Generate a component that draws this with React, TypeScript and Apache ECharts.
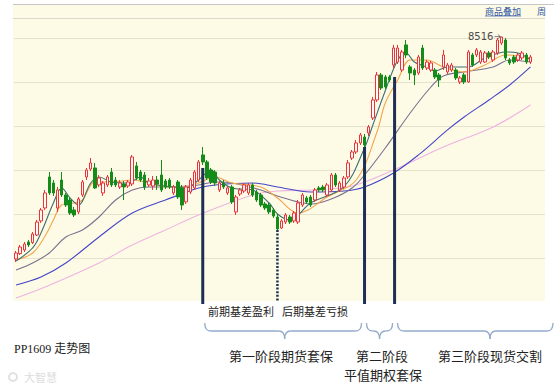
import React, { useEffect, useRef } from "react";
import * as echarts from "echarts";

// 128 trading-day slots (125 with candles, 3 empty at the right edge)
const days: string[] = Array.from({ length: 128 }, (_, i) => `D${i + 1}`);

// [open, close, low, high]
const candles: number[][] = [
  [5989, 6057, 5955, 6080], [6050, 6125, 6034, 6148], [6091, 6159, 6068, 6182], [6182, 6148, 6125, 6205],
  [6175, 6273, 6159, 6296], [6261, 6409, 6250, 6432], [6421, 6546, 6398, 6568], [6568, 6739, 6546, 6773],
  [6921, 6739, 6716, 6977], [6852, 6739, 6705, 6886], [6568, 6773, 6523, 6807], [6886, 6716, 6693, 6977],
  [6716, 6602, 6580, 6739], [6659, 6511, 6489, 6693], [6546, 6489, 6466, 6580], [6523, 6671, 6500, 6693],
  [6716, 6864, 6693, 6886], [6921, 7000, 6886, 7023], [7011, 7080, 6989, 7136], [7023, 6796, 6784, 7080],
  [6830, 6909, 6807, 6943], [6739, 6852, 6705, 6875], [6830, 6921, 6807, 6943], [6977, 6830, 6807, 7023],
  [6886, 6830, 6807, 6920], [6807, 6852, 6784, 6886], [6841, 6807, 6659, 6875], [6818, 6864, 6796, 6886],
  [6841, 7148, 6818, 7170], [7046, 6909, 6886, 7091], [6977, 6886, 6864, 7000], [6943, 6807, 6773, 6977],
  [6830, 6875, 6807, 6909], [6818, 6886, 6773, 6932], [6886, 6841, 6773, 6932], [6943, 6773, 6750, 7114],
  [6875, 6807, 6784, 6898], [6886, 6807, 6784, 6909], [6739, 6807, 6716, 6830], [6864, 6693, 6671, 6886],
  [6796, 6602, 6546, 6830], [6637, 6807, 6614, 6830], [6750, 6886, 6727, 6909], [6796, 6977, 6773, 7000],
  [6886, 7091, 6864, 7114], [7171, 7091, 7057, 7261], [7091, 6909, 6886, 7114], [7000, 6864, 6841, 7023],
  [6977, 6852, 6818, 7000], [6773, 6852, 6750, 6875], [6852, 6807, 6784, 6886], [6739, 6796, 6716, 6818],
  [6807, 6637, 6614, 6830], [6523, 6693, 6489, 6716], [6727, 6773, 6705, 6796], [6761, 6830, 6739, 6852],
  [6739, 6830, 6716, 6852], [6830, 6716, 6693, 6852], [6750, 6659, 6637, 6773], [6716, 6602, 6580, 6739],
  [6614, 6568, 6546, 6637], [6602, 6523, 6500, 6625], [6546, 6477, 6455, 6568], [6466, 6330, 6307, 6500],
  [6341, 6421, 6330, 6443], [6409, 6489, 6386, 6511], [6466, 6409, 6386, 6489], [6421, 6511, 6398, 6534],
  [6409, 6625, 6386, 6659], [6602, 6716, 6580, 6739], [6682, 6637, 6614, 6705], [6693, 6602, 6580, 6716],
  [6659, 6773, 6637, 6796], [6796, 6773, 6750, 6818], [6807, 6773, 6750, 6830], [6716, 6830, 6693, 6852],
  [6773, 6943, 6750, 6966], [6943, 6830, 6807, 6966], [6773, 6852, 6750, 6875], [6807, 6909, 6784, 6932],
  [6921, 7080, 6898, 7114], [7136, 7205, 7114, 7227], [7205, 7307, 7182, 7341], [7307, 7398, 7284, 7421],
  [7375, 7284, 7261, 7409], [7421, 7489, 7386, 7511], [7591, 7796, 7568, 7830], [7796, 8080, 7773, 8114],
  [8080, 7932, 7909, 8102], [8057, 7943, 7921, 8080], [8057, 8023, 8000, 8080], [8193, 8386, 8159, 8421],
  [8227, 8386, 8205, 8421], [8136, 8341, 8114, 8364], [8421, 8307, 8273, 8477], [8171, 8102, 8023, 8193],
  [8136, 8080, 7966, 8159], [8102, 8284, 8080, 8307], [8386, 8159, 8136, 8421], [8159, 8227, 8136, 8250],
  [8136, 8216, 8114, 8239], [8136, 8057, 8034, 8159], [8080, 8023, 7943, 8102], [8171, 8307, 8136, 8364],
  [8114, 8193, 8091, 8216], [8136, 8193, 8114, 8216], [8136, 8046, 8023, 8159], [8000, 8046, 7977, 8068],
  [8080, 8000, 7977, 8102], [8000, 8341, 7989, 8364], [8307, 8193, 8171, 8330], [8307, 8364, 8284, 8386],
  [8227, 8341, 8205, 8364], [8227, 8330, 8216, 8352], [8330, 8284, 8261, 8352], [8250, 8341, 8227, 8364],
  [8330, 8477, 8307, 8500], [8443, 8511, 8421, 8516], [8477, 8273, 8250, 8500], [8250, 8216, 8193, 8273],
  [8284, 8227, 8205, 8307], [8250, 8307, 8227, 8330], [8273, 8330, 8250, 8352], [8307, 8227, 8205, 8330],
  [8227, 8284, 8205, 8307],
];

// moving averages as [day index, price]
const ma5: number[][] = [
  [0, 5966], [4, 6114], [6, 6284], [9, 6625], [11, 6796], [13, 6682], [15, 6602], [18, 6852], [20, 6921],
  [23, 6864], [27, 6852], [30, 6921], [32, 6852], [38, 6807], [41, 6796], [44, 6886], [47, 7000], [49, 6886],
  [52, 6796], [57, 6773], [61, 6625], [63, 6500], [66, 6432], [71, 6625], [79, 6807], [84, 7250], [86, 7511],
  [89, 7900], [92, 8250], [94, 8330], [96, 8227], [99, 8171], [101, 8125], [104, 8171], [109, 8171],
  [113, 8273], [118, 8341], [121, 8330], [124, 8250],
];
const ma10: number[][] = [
  [0, 5977], [4, 6057], [7, 6250], [9, 6432], [11, 6602], [14, 6625], [16, 6659], [19, 6864], [23, 6864],
  [28, 6886], [32, 6852], [36, 6807], [41, 6807], [44, 6852], [48, 6921], [52, 6852], [59, 6807], [63, 6682],
  [68, 6511], [75, 6693], [82, 6886], [87, 7432], [89, 7761], [92, 8023], [95, 8250], [99, 8250], [103, 8171],
  [108, 8114], [113, 8193], [118, 8307], [124, 8273],
];
const ma20: number[][] = [
  [0, 5864], [4, 5943], [8, 6057], [12, 6239], [16, 6318], [20, 6466], [24, 6659], [28, 6773], [32, 6807],
  [36, 6807], [44, 6830], [48, 6864], [52, 6852], [59, 6773], [63, 6705], [71, 6614], [76, 6671], [81, 6796],
  [84, 6943], [89, 7250], [95, 7648], [100, 7943], [103, 8068], [108, 8114], [115, 8171], [119, 8250], [124, 8227],
];
const ma60: number[][] = [
  [0, 5693], [6, 5784], [12, 5943], [20, 6239], [28, 6511], [36, 6659], [44, 6796], [48, 6830], [57, 6852],
  [63, 6807], [71, 6750], [79, 6761], [84, 6807], [91, 6966], [97, 7171], [104, 7455], [108, 7602], [114, 7796],
  [119, 7966], [124, 8171],
];
const ma120: number[][] = [
  [0, 5545], [7, 5670], [20, 5943], [28, 6148], [36, 6318], [44, 6489], [57, 6716], [63, 6761], [71, 6773],
  [81, 6818], [91, 7000], [103, 7261], [115, 7489], [124, 7739],
];

// phase markers: [day index, price where the marker starts]
const phaseLines: number[][] = [[45, 7023], [84, 7261], [91, 8057]];
const basisTurn: number[] = [63, 6318];

const title = "PP1609 走势图";
const subNotes = ["前期基差盈利", "后期基差亏损"];
const stage1 = "第一阶段期货套保";
const stage2 = ["第二阶段", "平值期权套保"];
const stage3 = "第三阶段现货交割";

const CJK = '"Noto Sans CJK SC", "Noto Sans", sans-serif';

export default function App() {
  const ref = useRef<HTMLDivElement>(null);

  useEffect(() => {
    if (!ref.current) return;
    const chart = echarts.init(ref.current, null, { renderer: "svg" });
    const maLine = (data: number[][], color: string, name: string) => ({
      name,
      type: "line",
      data,
      showSymbol: false,
      smooth: 0.35,
      silent: true,
      lineStyle: { color, width: 1.1 },
      z: 2,
    });
    chart.setOption({
      animation: false,
      grid: { left: 14, right: 9, top: 18, bottom: 87, containLabel: false },
      xAxis: {
        type: "category",
        data: days,
        boundaryGap: true,
        axisLine: { show: false },
        axisTick: { show: false },
        axisLabel: { show: false },
        splitLine: { show: false },
      },
      yAxis: {
        type: "value",
        min: 5500,
        max: 8727,
        interval: 500,
        axisLine: { show: false },
        axisTick: { show: false },
        axisLabel: { show: false },
        splitLine: { show: true, showMinLine: false, showMaxLine: false, lineStyle: { color: "#e6e3cd", width: 1 } },
      },
      series: [
        maLine(ma120, "#efb3e3", "MA120"),
        maLine(ma60, "#4646c8", "MA60"),
        maLine(ma20, "#7a7090", "MA20"),
        maLine(ma10, "#f2a54a", "MA10"),
        maLine(ma5, "#3f6f70", "MA5"),
        {
          type: "candlestick",
          data: candles,
          barWidth: 3,
          silent: true,
          z: 3,
          itemStyle: {
            color: "#fff7f2",
            color0: "#138c1a",
            borderColor: "#e8353c",
            borderColor0: "#138c1a",
            borderWidth: 1,
          },
        },
      ],
    });

    const px = (i: number, v: number) => chart.convertToPixel({ gridIndex: 0 }, [i, v]) as number[];
    const g: any[] = [];
    // backgrounds and frame
    g.push({ type: "rect", z: -10, silent: true, shape: { x: 13, y: 4, width: 532, height: 297 }, style: { fill: "#fdfbe5" } });
    g.push({ type: "line", z: 5, silent: true, shape: { x1: 13, y1: 4.5, x2: 554, y2: 4.5 }, style: { stroke: "#c6c6c6", lineWidth: 1 } });
    g.push({ type: "line", z: 5, silent: true, shape: { x1: 13, y1: 18.5, x2: 545, y2: 18.5 }, style: { stroke: "#d9d8cc", lineWidth: 1 } });
    g.push({ type: "text", z: 5, x: 485, y: 11, style: { text: "商品叠加", fill: "#2f56a6", font: `9px ${CJK}`, textVerticalAlign: "middle" } });
    g.push({ type: "line", z: 5, shape: { x1: 485, y1: 16, x2: 521, y2: 16 }, style: { stroke: "#2f56a6", lineWidth: 0.7 } });
    g.push({ type: "text", z: 5, x: 537, y: 11, style: { text: "周", fill: "#2f56a6", font: `9px ${CJK}`, textVerticalAlign: "middle" } });

    // max label
    let mi = 0;
    candles.forEach((c, i) => { if (c[3] > candles[mi][3]) mi = i; });
    const [mx, my] = px(mi, candles[mi][3]);
    g.push({ type: "text", z: 6, x: mx - 8, y: my, style: { text: String(candles[mi][3]), fill: "#4a4a4a", font: "10px 'DejaVu Sans'", textAlign: "right", textVerticalAlign: "middle" } });
    g.push({ type: "line", z: 6, shape: { x1: mx - 7, y1: my, x2: mx - 1, y2: my }, style: { stroke: "#666", lineWidth: 0.8 } });
    g.push({ type: "polyline", z: 6, shape: { points: [[mx - 3.5, my - 2], [mx - 1, my], [mx - 3.5, my + 2]] }, style: { stroke: "#666", lineWidth: 0.8, fill: null } });

    // phase lines
    const lx: number[] = [];
    phaseLines.forEach(([i, v], k) => {
      const [x, y] = px(i, v);
      const xx = k === 2 ? x + 1 : x;
      lx.push(xx);
      g.push({ type: "line", z: 8, shape: { x1: xx, y1: y, x2: xx, y2: 304 }, style: { stroke: "#1d2f55", lineWidth: 3 } });
    });
    const [dx, dy] = px(basisTurn[0], basisTurn[1]);
    g.push({ type: "line", z: 8, shape: { x1: dx, y1: dy, x2: dx, y2: 302 }, style: { stroke: "#1d2f55", lineWidth: 2.5, lineDash: [2, 1.6] } });

    // braces
    const braceColor = "#93aacb";
    const brace = (x1: number, x2: number, xm: number) => {
      const yTop = 323, yMid = 331, yTip = 339, r = 6;
      const s = { stroke: braceColor, lineWidth: 1.3, fill: null };
      return [
        { type: "bezierCurve", shape: { x1, y1: yTop, x2: x1 + r, y2: yMid, cpx1: x1, cpy1: yMid }, style: s },
        { type: "line", shape: { x1: x1 + r, y1: yMid, x2: xm - r, y2: yMid }, style: s },
        { type: "bezierCurve", shape: { x1: xm - r, y1: yMid, x2: xm, y2: yTip, cpx1: xm, cpy1: yMid }, style: s },
        { type: "bezierCurve", shape: { x1: xm, y1: yTip, x2: xm + r, y2: yMid, cpx1: xm, cpy1: yMid }, style: s },
        { type: "line", shape: { x1: xm + r, y1: yMid, x2: x2 - r, y2: yMid }, style: s },
        { type: "bezierCurve", shape: { x1: x2 - r, y1: yMid, x2, y2: yTop, cpx1: x2, cpy1: yMid }, style: s },
      ];
    };
    g.push(...brace(lx[0] + 2, lx[1] - 3, (lx[0] + lx[1]) / 2 + 1));
    g.push(...brace(lx[1] + 2, lx[2] - 2, (lx[1] + lx[2]) / 2));
    g.push(...brace(lx[2] + 3, 553, 490));

    const txt = (text: string, x: number, y: number, size: number, align = "center", font = CJK, fill = "#222") => ({
      type: "text", z: 9, x, y,
      style: { text, fill, font: `${size}px ${font}`, textAlign: align, textVerticalAlign: "middle" },
    });
    g.push(txt(subNotes[0], 241, 311, 11));
    g.push(txt(subNotes[1], 315, 311, 11));
    g.push(txt(stage1, 281, 355, 13));
    g.push(txt(stage2[0], 382, 355, 13));
    g.push(txt(stage2[1], 383, 374, 13));
    g.push(txt(stage3, 490, 355, 13));
    g.push(txt(title, 14, 349, 12, "left", `"Liberation Serif", ${CJK}`, "#222"));
    // faint watermark
    g.push({ type: "ring", z: 9, shape: { cx: 13, cy: 377, r: 5, r0: 3 }, style: { fill: "#e2e2e2" } });
    g.push(txt("大智慧", 24, 377, 11, "left", CJK, "#dcdcdc"));

    chart.setOption({ graphic: g });
    return () => chart.dispose();
  }, []);

  return <div ref={ref} style={{ position: "fixed", left: 0, top: 0, width: 554, height: 389, background: "#fff" }} />;
}
